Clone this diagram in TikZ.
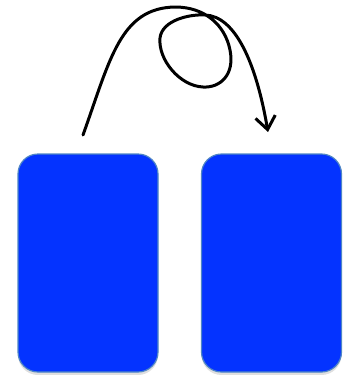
\documentclass[tikz,border=0pt]{standalone}
\usepackage{tikz}
\usetikzlibrary{arrows.meta,shadows}
\definecolor{cfill}{HTML}{0433FF}
\definecolor{cedge}{HTML}{4F86C6}

\begin{document}
\begin{tikzpicture}[x=1pt, y=-1pt, >={Straight Barb[length=13pt,width=20pt,line width=3pt]},
                    card/.style={draw=cedge, line width=1.2pt, fill=cfill, rounded corners=20pt,
                                 minimum width=140pt, minimum height=218pt,
                                 drop shadow={shadow xshift=0pt, shadow yshift=-3pt, opacity=0.25}},
                    swirl/.style={line width=3pt, line cap=round, line join=round}]
  \useasboundingbox (0,0) rectangle (347,375);
  % the two cards
  \node[card] (boxA) at (88,263) {};
  \node[card] (boxB) at (271.5,263) {};
  % loose ends of the hand-drawn arrow
  \coordinate (start) at (83,135);
  \coordinate (stop) at (268,132);
  % arrow with a loop
  \draw[swirl,->] (start) .. controls (110,60) and (120,8) .. (175,7)
    .. controls (205,7) and (225,25) .. (230,50)
    .. controls (235,75) and (220,88) .. (203,87)
    .. controls (180,86) and (158,60) .. (160,38)
    .. controls (162,20) and (190,14) .. (205,15)
    .. controls (235,16) and (256,62) .. (stop);
\end{tikzpicture}
\end{document}
